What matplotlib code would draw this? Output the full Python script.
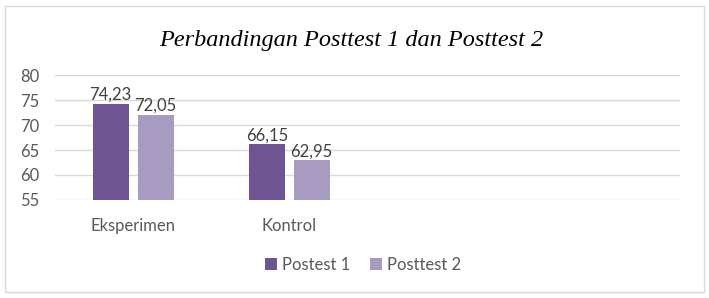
import matplotlib.pyplot as plt
import numpy as np

kategori = ['Eksperimen', 'Kontrol', '', '']
postest1 = [74.23, 66.15, np.nan, np.nan]
posttest2 = [72.05, 62.95, np.nan, np.nan]
label1 = ['74,23', '66,15']
label2 = ['72,05', '62,95']

warna1 = '#6E5592'
warna2 = '#A79BC2'
abu = '#595959'

plt.rcParams['font.family'] = ['Lato', 'DejaVu Sans']

fig = plt.figure(figsize=(7.09, 2.98), dpi=100)
ax = fig.add_axes([0.0776, 0.329, 0.881, 0.419])

x = np.arange(len(kategori))
w = 0.23
gap = 0.058
b1 = ax.bar(x - (w + gap) / 2, postest1, w, color=warna1, label='Postest 1', zorder=3)
b2 = ax.bar(x + (w + gap) / 2, posttest2, w, color=warna2, label='Posttest 2', zorder=3)

for i, t in enumerate(label1):
    ax.text(x[i] - (w + gap) / 2, postest1[i] + 0.2, t, ha='center', va='bottom',
            fontsize=12, color='#404040')
for i, t in enumerate(label2):
    ax.text(x[i] + (w + gap) / 2, posttest2[i] + 0.2, t, ha='center', va='bottom',
            fontsize=12, color='#404040')

ax.set_xlim(-0.5, len(kategori) - 0.5)
ax.set_ylim(55, 80)
ax.set_yticks([55, 60, 65, 70, 75, 80])
ax.set_xticks(x)
ax.set_xticklabels(kategori)
ax.tick_params(length=0, labelsize=12, labelcolor=abu)
ax.tick_params(axis='x', pad=13)
ax.tick_params(axis='y', pad=11)
ax.grid(axis='y', color='#D9D9D9', linewidth=1, zorder=0)
for s in ax.spines.values():
    s.set_visible(False)

fig.text(0.496, 0.865, 'Perbandingan Posttest 1 dan Posttest 2', ha='center', va='center',
         fontsize=17.5, style='italic', family='Liberation Serif', color='black')

leg = fig.legend(handles=[b1, b2], loc='center', bbox_to_anchor=(0.512, 0.112), ncol=2,
                 frameon=False, fontsize=12, handlelength=0.7, handleheight=0.7,
                 handletextpad=0.3, columnspacing=1.2)
for t in leg.get_texts():
    t.set_color(abu)

fig.patches.append(plt.Rectangle((0.007, 0.02), 0.986, 0.96, transform=fig.transFigure,
                                 fill=False, edgecolor='#D9D9D9', linewidth=1))

fig.savefig('out.png', dpi=100)
